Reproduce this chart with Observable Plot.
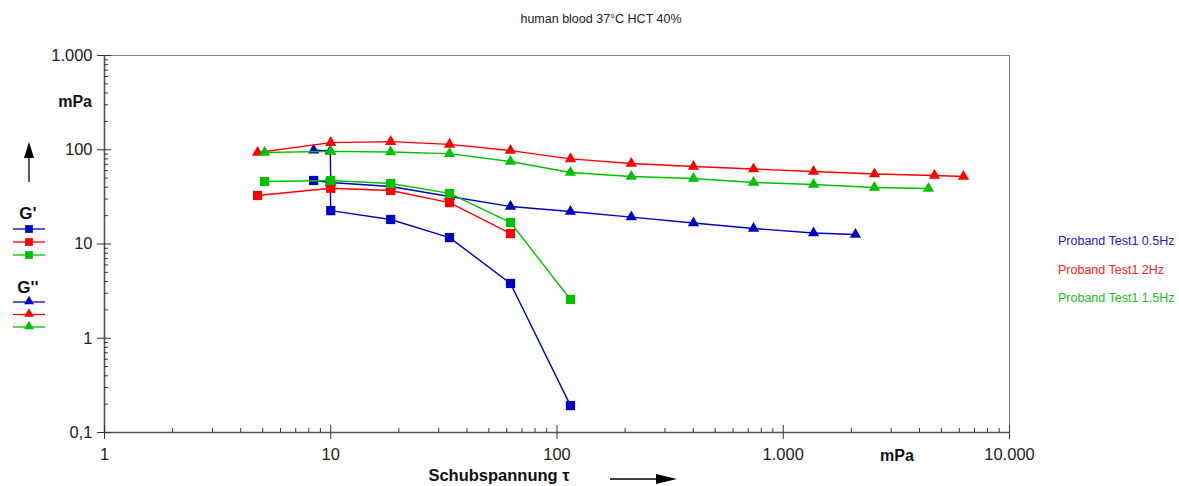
<!DOCTYPE html>
<html><head><meta charset="utf-8">
<script src="https://cdn.jsdelivr.net/npm/d3@7"></script>
<script src="https://cdn.jsdelivr.net/npm/@observablehq/plot@0.6"></script>
<style>
body{margin:0;background:#fff;font-family:Arial,"Liberation Sans",sans-serif}
#wrap{position:relative;width:1179px;height:486px;overflow:hidden;background:#fff}
</style></head><body><div id="wrap"></div>
<script>
// ---- data ----
const title = "human blood 37°C HCT 40%";
const seriesNames = ["Proband Test1 0.5Hz", "Proband Test1 2Hz", "Proband Test1 1,5Hz"];
const seriesColors = ["#0000c0", "#ff0000", "#00c000"];

// 0.5 Hz (blue)
const blueStoreX = [8.4, 9.95, 10, 18.4, 33.5, 62.3, 114.7];
const blueStoreY = [47.2, 45, 22.6, 18.2, 11.7, 3.81, 0.193];
const blueLossX  = [8.4, 9.95, 10, 18.4, 33.5, 62.3, 114.7, 213, 401, 739, 1361, 2085];
const blueLossY  = [99, 97, 45, 40.7, 31.9, 25.0, 22.1, 19.3, 16.7, 14.6, 13.1, 12.6];
// 2 Hz (red)
const redStoreX = [4.75, 10, 18.4, 33.5, 62.3];
const redStoreY = [32.7, 39, 37, 27.5, 12.9];
const redLossX  = [4.75, 10, 18.4, 33.5, 62.3, 114.7, 213, 401, 739, 1361, 2530, 4660, 6260];
const redLossY  = [93.5, 119, 122, 114, 98, 80, 71.5, 66.5, 62.5, 58.8, 55.3, 53.3, 52];
// 1,5 Hz (green)
const greenStoreX = [5.1, 10, 18.4, 33.5, 62.3, 114.7];
const greenStoreY = [46, 47.2, 43.9, 34.4, 16.9, 2.58];
const greenLossX  = [5.1, 10, 18.4, 33.5, 62.3, 114.7, 213, 401, 739, 1361, 2530, 4385];
const greenLossY  = [93.5, 96, 94.5, 91, 75, 57.4, 52, 49.5, 45, 42.8, 39.8, 38.8];

const xTicks = [1, 10, 100, 1000, 10000];
const xTickLabels = ["1", "10", "100", "1.000", "10.000"];
const yTicks = [0.1, 1, 10, 100, 1000];
const yTickLabels = ["0,1", "1", "10", "100", "1.000"];
const xLabel = "Schubspannung \u03C4";
const unitLabel = "mPa";
const legendG1 = "G'";
const legendG2 = "G''";

// ---- build table ----
function rows(xs, ys, series, kind) { return xs.map((x, i) => ({x, y: ys[i], series, kind})); }
const storage = [
  ...rows(blueStoreX, blueStoreY, 0, "G'"),
  ...rows(redStoreX, redStoreY, 1, "G'"),
  ...rows(greenStoreX, greenStoreY, 2, "G'")
];
const loss = [
  ...rows(blueLossX, blueLossY, 0, "G''"),
  ...rows(redLossX, redLossY, 1, "G''"),
  ...rows(greenLossX, greenLossY, 2, "G''")
];
const minorX = [], minorY = [];
for (let e = 0; e < 4; e++) for (let k = 2; k <= 9; k++) minorX.push(k * Math.pow(10, e));
for (let e = -1; e < 3; e++) for (let k = 2; k <= 9; k++) minorY.push(+(k * Math.pow(10, e)).toPrecision(3));

const W = 1179, H = 486, mL = 104, mR = 170, mT = 55, mB = 54;
const innerW = W - mL - mR, innerH = H - mT - mB;
const FONT = "Arial, 'Liberation Sans', sans-serif";

const marks = [
  Plot.frame({stroke: "#808080", strokeWidth: 1}),
  Plot.ruleY([0.1], {stroke: "#555", strokeWidth: 1.6}),
  Plot.ruleX([1], {stroke: "#555", strokeWidth: 1.6}),
  Plot.axisX({ticks: xTicks, tickFormat: d => xTickLabels[xTicks.indexOf(d)], tickSize: 7, tickPadding: 9, label: null, fontSize: 16.5, stroke: "#333"}),
  Plot.axisY({ticks: yTicks, tickFormat: d => yTickLabels[yTicks.indexOf(d)], tickSize: 7, tickPadding: 5, label: null, fontSize: 16.5, stroke: "#333"}),
  Plot.tickX(xTicks, {x: d => d, insetTop: innerH - 7, stroke: "#333"}),
  Plot.tickX(minorX, {x: d => d, insetTop: innerH - 4, stroke: "#333"}),
  Plot.tickY(yTicks, {y: d => d, insetRight: innerW - 7, stroke: "#333"}),
  Plot.tickY(minorY, {y: d => d, insetRight: innerW - 4, stroke: "#333"})
];
for (const s of [0, 1, 2]) {
  marks.push(Plot.line(loss.filter(d => d.series === s), {x: "x", y: "y", stroke: seriesColors[s], strokeWidth: 1.4}));
  marks.push(Plot.line(storage.filter(d => d.series === s), {x: "x", y: "y", stroke: seriesColors[s], strokeWidth: 1.4}));
  marks.push(Plot.dot(loss.filter(d => d.series === s), {x: "x", y: "y", symbol: "triangle", r: 4.2, fill: seriesColors[s], stroke: "none"}));
  marks.push(Plot.dot(storage.filter(d => d.series === s), {x: "x", y: "y", symbol: "square", r: 5.2, fill: seriesColors[s], stroke: "none"}));
}

const svg = Plot.plot({
  width: W, height: H, marginLeft: mL, marginRight: mR, marginTop: mT, marginBottom: mB,
  style: {fontFamily: FONT, fontSize: "15px", color: "#222", background: "white", overflow: "visible"},
  x: {type: "log", domain: [1, 10000]},
  y: {type: "log", domain: [0.1, 1000]},
  marks
});
document.getElementById("wrap").appendChild(svg);

// ---- annotations ----
const s = d3.select(svg);
const g = s.append("g").attr("font-family", FONT);
g.append("text").attr("x", 601).attr("y", 23).attr("text-anchor", "middle").attr("font-size", 12.5).attr("fill", "#222").text(title);
// y unit
g.append("text").attr("x", 92).attr("y", 107).attr("text-anchor", "end").attr("font-size", 16).attr("font-weight", "bold").attr("fill", "#111").text(unitLabel);
// x unit
g.append("text").attr("x", 897).attr("y", 461).attr("text-anchor", "middle").attr("font-size", 16).attr("font-weight", "bold").attr("fill", "#111").text(unitLabel);
// x label
g.append("text").attr("x", 499).attr("y", 481).attr("text-anchor", "middle").attr("font-size", 16.5).attr("font-weight", "bold").attr("fill", "#111").text(xLabel);
// x arrow
g.append("line").attr("x1", 610).attr("x2", 658).attr("y1", 479).attr("y2", 479).attr("stroke", "#000").attr("stroke-width", 1.3);
g.append("path").attr("d", "M656,474 L677,479 L656,484 Z").attr("fill", "#000");
// y arrow
g.append("line").attr("x1", 29).attr("x2", 29).attr("y1", 182).attr("y2", 156).attr("stroke", "#000").attr("stroke-width", 1.3);
g.append("path").attr("d", "M24,158 L29,142 L34,158 Z").attr("fill", "#000");
// left legend
g.append("text").attr("x", 28).attr("y", 219).attr("text-anchor", "middle").attr("font-size", 17).attr("font-weight", "bold").attr("fill", "#111").text(legendG1);
g.append("text").attr("x", 28).attr("y", 293).attr("text-anchor", "middle").attr("font-size", 17).attr("font-weight", "bold").attr("fill", "#111").text(legendG2);
const sq = d3.symbol(d3.symbolSquare, 60)();
const tri = d3.symbol(d3.symbolTriangle, 42)();
seriesColors.forEach((c, i) => {
  const y1 = 229 + i * 13, y2 = 302 + i * 12.5;
  g.append("line").attr("x1", 13).attr("x2", 45).attr("y1", y1).attr("y2", y1).attr("stroke", c).attr("stroke-width", 1.3);
  g.append("path").attr("d", sq).attr("transform", `translate(29,${y1})`).attr("fill", c);
  g.append("line").attr("x1", 13).attr("x2", 45).attr("y1", y2).attr("y2", y2).attr("stroke", c).attr("stroke-width", 1.3);
  g.append("path").attr("d", tri).attr("transform", `translate(29,${y2 - 0.5})`).attr("fill", c);
});
// right legend
const legendTextColors = ["#2020c8", "#ff2020", "#20c020"];
seriesNames.forEach((n, i) => {
  g.append("text").attr("x", 1058).attr("y", 245 + i * 28.5).attr("text-anchor", "start").attr("font-size", 12.5).attr("fill", legendTextColors[i]).text(n);
});
</script></body></html>
